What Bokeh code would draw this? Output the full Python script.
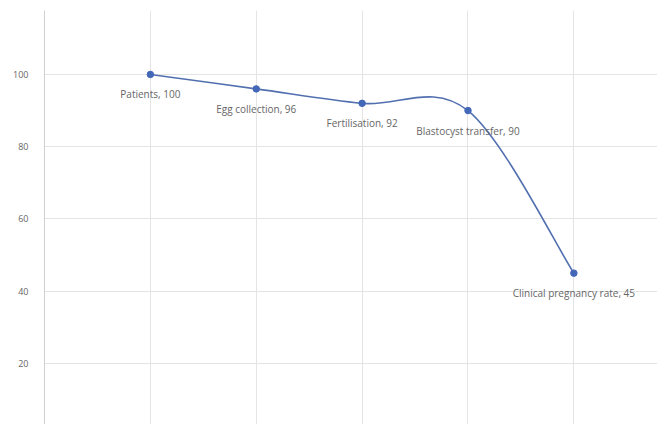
from bokeh.plotting import figure
from bokeh.models import ColumnDataSource, FixedTicker, Range1d
from bokeh.core.properties import value
from bokeh.embed import file_html
from bokeh.resources import INLINE

# Data
stages = ["Patients", "Egg collection", "Fertilisation", "Blastocyst transfer", "Clinical pregnancy rate"]
counts = [100, 96, 92, 90, 45]
y_ticks = [0, 20, 40, 60, 80, 100]

xs = list(range(1, len(stages) + 1))
labels = [f"{s}, {c}" for s, c in zip(stages, counts)]

p = figure(width=657, height=424, output_backend="svg", toolbar_location=None,
           x_range=Range1d(0, 5.79), y_range=Range1d(3.1, 117.7),
           min_border_left=44, min_border_right=0, min_border_top=10, min_border_bottom=0)
p.outline_line_color = None
p.background_fill_color = "white"
p.border_fill_color = "white"

p.xaxis.visible = False
p.xgrid.ticker = FixedTicker(ticks=[0, 1, 2, 3, 4, 5, 6])
p.xgrid.grid_line_color = "#e4e4e4"
p.ygrid.grid_line_color = "#e4e4e4"

ya = p.yaxis[0]
ya.ticker = FixedTicker(ticks=y_ticks)
ya.axis_line_color = "#cfcfcf"
ya.major_tick_line_color = None
ya.minor_tick_line_color = None
ya.major_label_text_font = "Open Sans"
ya.major_label_text_font_size = "9px"
ya.major_label_text_color = "#666666"
ya.major_label_standoff = 10

# Smoothed line (Catmull-Rom style Bezier from the data points)
n = len(xs)
x0, y0, x1, y1, cx0, cy0, cx1, cy1 = [], [], [], [], [], [], [], []
for i in range(n - 1):
    xp, yp = (xs[i - 1], counts[i - 1]) if i > 0 else (xs[i], counts[i])
    xn, yn = (xs[i + 2], counts[i + 2]) if i + 2 < n else (xs[i + 1], counts[i + 1])
    x0.append(xs[i]); y0.append(counts[i])
    x1.append(xs[i + 1]); y1.append(counts[i + 1])
    cx0.append(xs[i] + (xs[i + 1] - xp) / 6); cy0.append(counts[i] + (counts[i + 1] - yp) / 6)
    cx1.append(xs[i + 1] - (xn - xs[i]) / 6); cy1.append(counts[i + 1] - (yn - counts[i]) / 6)

p.bezier(x0=x0, y0=y0, x1=x1, y1=y1, cx0=cx0, cy0=cy0, cx1=cx1, cy1=cy1,
         line_color="#5270b0", line_width=1.6)

src = ColumnDataSource(dict(x=xs, y=counts, label=labels))
p.scatter("x", "y", source=src, size=6.5, fill_color="#4468b8", line_color="#4468b8")
p.text("x", "y", text="label", source=src, text_align="center", text_baseline="middle",
       y_offset=20, text_font=value("Open Sans"), text_font_size="10px", text_color="#666666")

open("out.html", "w").write(file_html(p, INLINE))
